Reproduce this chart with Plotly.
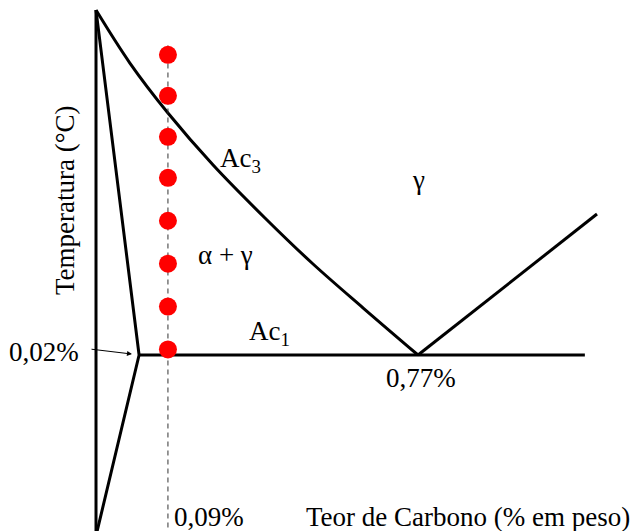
import plotly.graph_objects as go

# Schematic Fe-C diagram data (x: schematic carbon axis, y: temperature °C)
pure_fe_x = [0, 0]
pure_fe_y = [912, 630]

alpha_x = [0, 0.103, 0]
alpha_y = [912, 727, 630]

ac3_x = [0, 0.081, 0.172, 0.280, 0.404, 0.519, 0.639, 0.77]
ac3_y = [912, 883.6, 856.8, 828.9, 800.5, 775.8, 752.2, 727]

ac1_x = [0.103, 1.169]
ac1_y = [727, 727]

acm_x = [0.77, 1.198]
acm_y = [727, 802.6]

steel_x = 0.172
dots_y = [888, 866, 844, 822, 799, 776, 753, 730]
dash_y = [893, 630]

FONT = "Liberation Serif, Times New Roman, Times, serif"
FS = 27

fig = go.Figure()
line = dict(color="black", width=3)
fig.add_trace(go.Scatter(x=pure_fe_x, y=pure_fe_y, mode="lines", line=line))
fig.add_trace(go.Scatter(x=alpha_x, y=alpha_y, mode="lines", line=line))
fig.add_trace(go.Scatter(x=ac3_x, y=ac3_y, mode="lines",
                         line=dict(color="black", width=3, shape="spline", smoothing=1)))
fig.add_trace(go.Scatter(x=ac1_x, y=ac1_y, mode="lines", line=line))
fig.add_trace(go.Scatter(x=acm_x, y=acm_y, mode="lines", line=line))
fig.add_trace(go.Scatter(x=[steel_x, steel_x], y=dash_y, mode="lines",
                         line=dict(color="#333333", width=1, dash="5px,4px")))
fig.add_trace(go.Scatter(x=[steel_x] * len(dots_y), y=dots_y, mode="markers",
                         marker=dict(color="#ff0000", size=18, line=dict(width=0))))

def txt(x, y, s, **kw):
    d = dict(x=x, y=y, xref="x", yref="y", text=s, showarrow=False,
             font=dict(family=FONT, size=FS, color="black"))
    d.update(kw)
    fig.add_annotation(**d)

txt(-0.1243, 728.6, "0,02%")
txt(0.777, 714.7, "0,77%")
txt(0.270, 640.1, "0,09%")
txt(1.2817, 640.1, "Teor de Carbono (% em peso)", xanchor="right")
txt(-0.0741, 810.1, "Temperatura (°C)", textangle=-90)
txt(0.3467, 831.6, "Ac<sub>3</sub>")
txt(0.4137, 738.8, "Ac<sub>1</sub>")
txt(0.3085, 780.6, "α + γ")
txt(0.77, 820.8, "γ")

fig.add_annotation(x=0.086, y=727.5, ax=-0.0143, ay=730.2, xref="x", yref="y",
                   axref="x", ayref="y", text="", showarrow=True,
                   arrowhead=2, arrowsize=1, arrowwidth=1, arrowcolor="black")

fig.update_layout(
    width=636, height=531,
    margin=dict(l=0, r=0, t=0, b=0),
    paper_bgcolor="white", plot_bgcolor="white",
    showlegend=False,
    font=dict(family=FONT, size=FS, color="black"),
    xaxis=dict(range=[-0.2296, 1.2913], visible=False),
    yaxis=dict(range=[632.6, 917.4], visible=False),
)
fig.write_html("out.html", config={"displayModeBar": False},
               post_script="document.body.style.margin='0';document.body.style.overflow='hidden';")
